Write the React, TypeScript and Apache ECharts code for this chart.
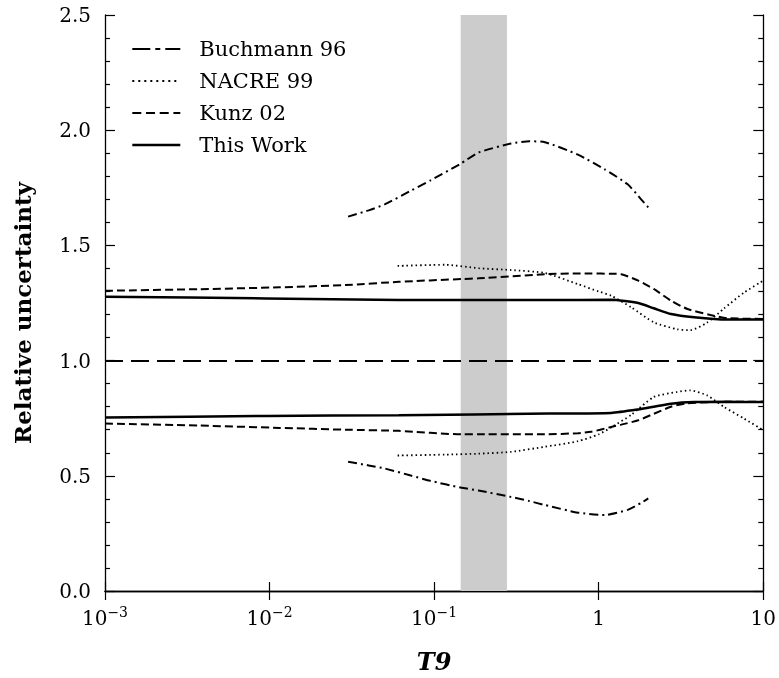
import React, { useEffect, useRef } from "react";
import * as echarts from "echarts";

// ---- data (T9 in GK, relative uncertainty) ----
const buchT = [0.03, 0.04, 0.05, 0.073, 0.095, 0.1445, 0.186, 0.294, 0.38, 0.471, 0.748, 1.087, 1.5, 1.81, 2.0];
const buchHi = [1.625, 1.652, 1.678, 1.739, 1.782, 1.854, 1.903, 1.942, 1.952, 1.948, 1.894, 1.83, 1.765, 1.7, 1.665];
const buchLo = [0.561, 0.545, 0.532, 0.5, 0.478, 0.449, 0.436, 0.408, 0.39, 0.373, 0.34, 0.33, 0.352, 0.382, 0.402];

const nacreT = [0.06, 0.117, 0.186, 0.294, 0.471, 0.748, 1.0, 1.19, 1.58, 2.16, 3.0, 3.6, 4.56, 5.77, 7.66, 10];
const nacreHi = [1.411, 1.416, 1.401, 1.393, 1.38, 1.332, 1.3, 1.282, 1.231, 1.166, 1.136, 1.132, 1.165, 1.226, 1.296, 1.347];
const nacreLo = [0.588, 0.592, 0.596, 0.604, 0.626, 0.65, 0.68, 0.71, 0.765, 0.842, 0.864, 0.871, 0.849, 0.799, 0.748, 0.698];

const kunzT = [0.001, 0.00376, 0.0115, 0.029, 0.061, 0.147, 0.186, 0.471, 0.748, 0.9, 1.19, 1.37, 1.74, 2.16, 2.75, 3.46, 4.78, 6.05, 10];
const kunzHi = [1.303, 1.31, 1.318, 1.328, 1.342, 1.354, 1.357, 1.375, 1.378, 1.378, 1.377, 1.375, 1.347, 1.311, 1.26, 1.224, 1.198, 1.184, 1.181];
const kunzLo = [0.727, 0.718, 0.708, 0.7, 0.695, 0.68, 0.68, 0.68, 0.685, 0.691, 0.712, 0.722, 0.741, 0.769, 0.8, 0.815, 0.82, 0.821, 0.822];

const workT = [0.001, 0.0095, 0.061, 0.5, 1.19, 1.74, 2.16, 2.75, 3.8, 6.05, 10];
const workHi = [1.277, 1.27, 1.263, 1.263, 1.264, 1.25, 1.227, 1.202, 1.188, 1.178, 1.178];
const workLo = [0.753, 0.76, 0.763, 0.77, 0.773, 0.788, 0.8, 0.813, 0.82, 0.821, 0.82];

const bandRange = [0.145, 0.277];
const refLevel = 1.0;
const legendNames = ["Buchmann 96", "NACRE 99", "Kunz 02", "This Work"];
const xTickLabels: Record<string, string> = {
  "-3": "{b|10}{s|−3}",
  "-2": "{b|10}{s|−2}",
  "-1": "{b|10}{s|−1}",
  "0": "{b|1}",
  "1": "{b|10}",
};

const FONT = "DejaVu Serif";

const pairs = (xs: number[], ys: number[]) => xs.map((x, i) => [x, ys[i]]);

export default function App() {
  const ref = useRef<HTMLDivElement>(null);
  useEffect(() => {
    const chart = echarts.init(ref.current!, null, { renderer: "svg" });
    const dashDot = [9, 4, 2, 4];
    const dotted = [1.5, 3];
    const dashed = [8, 4];
    const legendDash: Record<string, any> = {
      "Buchmann 96": { type: [18, 5, 5, 5], width: 2 },
      "NACRE 99": { type: [2, 4], width: 2 },
      "Kunz 02": { type: [9, 4.7], width: 2 },
      "This Work": { type: "solid", width: 2.6 },
    };
    const mk = (name: string, xs: number[], ys: number[], type: any, width: number, extra: any = {}) => ({
      type: "line",
      name,
      data: pairs(xs, ys),
      symbol: "none",
      showSymbol: false,
      smooth: 0.2,
      silent: true,
      lineStyle: { color: "#000", width, type },
      itemStyle: { color: "#000" },
      z: 3,
      ...extra,
    });
    const axisLineStyle = { color: "#000", width: 1.3 };
    const tickStyle = { color: "#000", width: 1.2 };
    const option: any = {
      animation: false,
      color: ["#000"],
      grid: { left: 105, right: 13, top: 15, bottom: 85 },
      legend: {
        orient: "vertical",
        left: 131,
        top: 38,
        padding: 0,
        itemWidth: 48,
        itemHeight: 14,
        itemGap: 10,
        selectedMode: false,
        data: legendNames.map((n) => ({
          name: n,
          lineStyle: { color: "#000", ...legendDash[n] },
          itemStyle: { color: "rgba(0,0,0,0)", borderWidth: 0 },
        })),
        textStyle: { fontFamily: FONT, fontSize: 21, lineHeight: 22, color: "#000", padding: [0, 0, 0, 14] },
      },
      xAxis: [
        {
          type: "log",
          logBase: 10,
          min: 0.001,
          max: 10,
          position: "bottom",
          axisLine: { lineStyle: axisLineStyle },
          axisTick: { inside: true, length: 9, lineStyle: tickStyle },
          minorTick: { show: false },
          splitLine: { show: false },
          axisLabel: {
            margin: 14,
            formatter: (v: number) => xTickLabels[String(Math.round(Math.log10(v)))] ?? "",
            rich: {
              b: { fontFamily: FONT, fontSize: 20, lineHeight: 26, color: "#000" },
              s: { fontFamily: FONT, fontSize: 14, lineHeight: 14, verticalAlign: "top", color: "#000" },
            },
          },
          name: "T9",
          nameLocation: "middle",
          nameGap: 58,
          nameTextStyle: { fontFamily: FONT, fontSize: 24, fontWeight: "bold", fontStyle: "italic", color: "#000" },
        },
        {
          type: "log",
          logBase: 10,
          min: 0.001,
          max: 10,
          position: "top",
          axisLine: { lineStyle: axisLineStyle },
          axisTick: { inside: true, length: 9, lineStyle: tickStyle },
          axisLabel: { show: false },
          splitLine: { show: false },
        },
      ],
      yAxis: [
        {
          type: "value",
          min: 0,
          max: 2.5,
          interval: 0.5,
          position: "left",
          axisLine: { show: true, lineStyle: axisLineStyle },
          axisTick: { show: true, inside: true, length: 10, lineStyle: tickStyle },
          minorTick: { show: true, splitNumber: 5, length: 5, lineStyle: tickStyle },
          splitLine: { show: false },
          axisLabel: {
            margin: 14,
            fontFamily: FONT,
            fontSize: 20,
            color: "#000",
            formatter: (v: number) => v.toFixed(1),
          },
        },
        {
          type: "value",
          min: 0,
          max: 2.5,
          interval: 0.5,
          position: "right",
          axisLine: { show: true, lineStyle: axisLineStyle },
          axisTick: { show: true, inside: true, length: 10, lineStyle: tickStyle },
          minorTick: { show: true, splitNumber: 5, length: 5, lineStyle: tickStyle },
          splitLine: { show: false },
          axisLabel: { show: false },
        },
      ],
      graphic: [
        {
          type: "text",
          x: 22,
          y: 313,
          rotation: Math.PI / 2,
          style: {
            text: "Relative uncertainty",
            fontFamily: FONT,
            fontSize: 23,
            fontWeight: "bold",
            fill: "#000",
            align: "center",
            verticalAlign: "middle",
          },
        },
      ],
      series: [
        mk("This Work", workT, workHi, "solid", 2.5, {
          markArea: {
            silent: true,
            z: 1,
            itemStyle: { color: "#cccccc" },
            data: [[{ xAxis: bandRange[0] }, { xAxis: bandRange[1] }]],
          },
          markLine: {
            silent: true,
            symbol: ["none", "none"],
            label: { show: false },
            lineStyle: { color: "#000", width: 2, type: [18, 8] },
            data: [{ yAxis: refLevel }],
          },
        }),
        mk("This Work", workT, workLo, "solid", 2.5),
        mk("Buchmann 96", buchT, buchHi, dashDot, 2),
        mk("Buchmann 96", buchT, buchLo, dashDot, 2),
        mk("NACRE 99", nacreT, nacreHi, dotted, 1.8),
        mk("NACRE 99", nacreT, nacreLo, dotted, 1.8),
        mk("Kunz 02", kunzT, kunzHi, dashed, 2),
        mk("Kunz 02", kunzT, kunzLo, dashed, 2),
      ],
    };
    chart.setOption(option);
    return () => chart.dispose();
  }, []);
  return <div ref={ref} style={{ position: "fixed", left: 0, top: 0, width: 779, height: 678 }} />;
}
